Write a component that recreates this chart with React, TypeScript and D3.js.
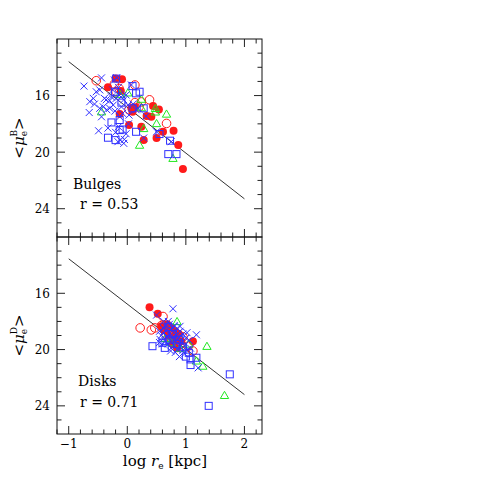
import React from "react";
import * as d3 from "d3";

type P = [number, number];

// axis ticks
const xMajor = [-1, 0, 1, 2];
const yMajor = [16, 20, 24];

// fitted relations: [x, y] at both ends
const bulgeFit: P[] = [[-1, 13.6], [2, 23.3]];
const diskFit: P[] = [[-1, 13.55], [2, 23.2]];

// Bulges panel
const bulgeCross: P[] = [
  [-0.74, 15.33], [-0.53, 15.73], [-0.47, 15.6], [-0.58, 16.2], [-0.64, 16.43], [-0.56, 16.6],
  [-0.65, 17.2], [-0.47, 16.9], [-0.39, 16.2], [-0.3, 16.36], [-0.35, 17.0], [-0.24, 16.67],
  [-0.19, 16.2], [-0.14, 15.96], [-0.06, 16.3], [-0.18, 14.74], [-0.22, 14.9], [-0.44, 17.5],
  [-0.49, 18.49], [-0.33, 18.3], [-0.15, 18.2], [-0.12, 19.15], [-0.06, 19.38], [-0.16, 19.26],
  [-0.02, 18.7], [-0.08, 17.26], [0.03, 17.38], [0.01, 16.67], [0.1, 16.6], [0.15, 17.0],
  [0.28, 19.0], [0.32, 17.45], [-0.21, 17.1], [-0.13, 17.5], [-0.15, 15.42], [-0.02, 15.96],
  [-0.27, 16.1], [-0.41, 16.8], [-0.36, 16.3], [0.07, 15.25], [-0.1, 16.8], [0.18, 16.9],
  [0.5, 18.56], [0.75, 19.26], [-0.25, 15.6], [-0.3, 16.9], [-0.08, 16.0], [-0.05, 19.1],
  [-0.2, 18.6], [0.02, 18.0], [-0.44, 14.75],
];
const bulgeSquare: P[] = [
  [0.09, 15.33], [0.15, 15.84], [0.21, 15.73], [0.09, 16.9], [0.28, 16.9], [-0.27, 17.9],
  [-0.33, 18.98], [-0.2, 19.15], [-0.13, 18.44], [0.15, 18.56], [-0.21, 15.73], [-0.19, 14.8],
  [0.55, 18.72], [0.73, 19.19], [0.7, 20.14], [0.84, 20.14], [-0.13, 17.73], [-0.08, 18.4],
  [-0.1, 16.5],
];
const bulgeTriangle: P[] = [
  [-0.44, 17.14], [0.01, 15.8], [-0.13, 15.9], [0.24, 16.25], [0.48, 16.9], [0.67, 17.3],
  [0.5, 17.97], [0.28, 18.32], [0.21, 19.5], [0.78, 20.43], [0.24, 16.85], [0.48, 17.15],
];
const bulgeOpen: P[] = [
  [-0.53, 14.95], [-0.22, 15.18], [-0.19, 15.73], [0.13, 15.25], [0.38, 16.3], [0.24, 16.45],
  [0.13, 16.5], [0.2, 16.8], [0.67, 17.97], [-0.14, 15.5], [0.03, 17.0],
];
const bulgeFilled: P[] = [
  [-0.33, 15.42], [-0.09, 14.85], [-0.11, 15.68], [-0.13, 17.3], [0.09, 17.14], [0.07, 16.9],
  [0.03, 18.08], [0.24, 18.2], [0.28, 19.15], [0.44, 16.74], [0.54, 16.98], [0.5, 19.0],
  [0.61, 18.56], [0.79, 18.49], [0.87, 19.5], [0.95, 21.2], [0.33, 17.45], [0.13, 16.83],
  [0.41, 17.5], [-0.2, 14.8],
];

// Disks panel
const diskCross: P[] = [
  [0.78, 17.1], [0.5, 17.55], [1.18, 18.95], [0.89, 20.5], [1.21, 21.3], [0.62, 18.0],
  [0.7, 18.0], [0.65, 18.3], [0.72, 18.2], [0.8, 18.3], [0.85, 18.5], [0.68, 18.6],
  [0.75, 18.6], [0.9, 18.7], [0.62, 18.8], [0.72, 18.9], [0.8, 18.8], [0.95, 18.9],
  [0.58, 19.0], [0.68, 19.1], [0.78, 19.1], [0.88, 19.1], [1.0, 19.2], [0.65, 19.4],
  [0.73, 19.35], [0.83, 19.4], [0.93, 19.5], [0.7, 19.6], [0.8, 19.7], [0.9, 19.8],
  [0.98, 19.7], [0.75, 19.9], [0.85, 20.0], [0.95, 20.05], [1.03, 20.0], [0.6, 19.6],
  [0.55, 19.5], [0.78, 18.45], [0.86, 18.85], [0.92, 19.3], [0.82, 20.2], [1.08, 19.9],
  [0.62, 18.5], [0.98, 20.3], [0.56, 19.28], [0.67, 19.05], [1.02, 18.8], [1.06, 19.35],
  [0.55, 18.7], [0.9, 18.35], [0.74, 20.1],
];
const diskSquare: P[] = [
  [0.43, 19.76], [0.6, 19.52], [0.64, 19.88], [1.05, 20.23], [1.08, 20.7], [1.08, 21.1],
  [1.18, 20.58], [1.75, 21.76], [1.39, 24.0], [0.7, 18.4], [0.78, 18.9], [0.88, 19.3],
  [0.95, 19.8], [0.72, 19.3], [1.0, 20.5], [0.85, 19.6],
];
const diskTriangle: P[] = [
  [0.85, 18.0], [1.36, 19.76], [1.29, 21.17], [1.66, 23.25], [1.18, 20.8], [0.75, 19.5],
  [0.9, 19.9], [0.65, 19.2], [1.05, 19.6],
];
const diskOpen: P[] = [
  [0.22, 18.46], [0.41, 18.6], [0.47, 18.46], [0.61, 17.65], [1.12, 20.1], [1.04, 19.76],
  [0.66, 18.9], [0.75, 19.2], [0.85, 19.5], [0.95, 19.1], [0.58, 18.3], [0.7, 18.75],
  [0.92, 19.6],
];
const diskFilled: P[] = [
  [0.38, 17.0], [0.52, 17.45], [0.58, 18.34], [1.12, 19.4], [0.75, 18.46], [0.66, 18.5],
  [0.7, 19.0], [0.8, 19.2], [0.88, 18.9], [0.78, 19.6], [0.68, 18.2], [0.92, 19.4],
  [0.85, 19.9], [0.62, 18.6], [0.82, 18.7],
];

const BLUE = "#3030ff";
const GREEN = "#22e822";
const RED = "#ff1a1a";
const FONT = "DejaVu Serif, serif";

const x = d3.scaleLinear().domain([-1.2, 2.3]).range([57, 262]);
const xMinor = d3.range(-6, 12).map((i) => +(i * 0.2).toFixed(1));
const yMinor = d3.range(13, 26);

type PanelProps = {
  top: number;
  bottom: number;
  cross: P[];
  square: P[];
  triangle: P[];
  open: P[];
  filled: P[];
  fit: P[];
  name: string;
  r: string;
  nameX: number;
  xLabels: boolean;
};

const Panel = (p: PanelProps) => {
  const y = d3.scaleLinear().domain([12, 26]).range([p.top, p.bottom]);
  const [x0, x1] = x.range();
  const line = d3.line<P>().x((d) => x(d[0])).y((d) => y(d[1]));
  const tri = d3.symbol(d3.symbolTriangle, 30);
  return (
    <g>
      {/* ticks */}
      {xMinor.map((v) => {
        const len = xMajor.includes(v) ? 8 : 4.5;
        return (
          <g key={"x" + v} stroke="#222" strokeWidth={1}>
            <line x1={x(v)} x2={x(v)} y1={p.bottom} y2={p.bottom - len} />
            <line x1={x(v)} x2={x(v)} y1={p.top} y2={p.top + len} />
          </g>
        );
      })}
      {yMinor.map((v) => {
        const len = yMajor.includes(v) ? 8 : 4.5;
        return (
          <g key={"y" + v} stroke="#222" strokeWidth={1}>
            <line x1={x0} x2={x0 + len} y1={y(v)} y2={y(v)} />
            <line x1={x1} x2={x1 - len} y1={y(v)} y2={y(v)} />
          </g>
        );
      })}
      {yMajor.map((v) => (
        <text key={"yl" + v} x={50} y={y(v) + 4.5} textAnchor="end" fontSize={12} fontFamily={FONT}>
          {v}
        </text>
      ))}
      {p.xLabels &&
        xMajor.map((v) => (
          <text key={"xl" + v} x={x(v)} y={448} textAnchor="middle" fontSize={12} fontFamily={FONT}>
            {v < 0 ? "\u2212" + Math.abs(v) : v}
          </text>
        ))}

      {/* fit */}
      <path d={line(p.fit) || ""} fill="none" stroke="#333" strokeWidth={1} />

      {/* points */}
      {p.filled.map((d, i) => (
        <circle key={"f" + i} cx={x(d[0])} cy={y(d[1])} r={4} fill={RED} />
      ))}
      {p.open.map((d, i) => (
        <circle key={"o" + i} cx={x(d[0])} cy={y(d[1])} r={4.3} fill="none" stroke={RED} strokeWidth={1} />
      ))}
      {p.triangle.map((d, i) => (
        <path
          key={"t" + i}
          d={tri() || ""}
          transform={`translate(${x(d[0])},${y(d[1]) + 0.8})`}
          fill="none"
          stroke={GREEN}
          strokeWidth={1}
        />
      ))}
      {p.square.map((d, i) => (
        <rect
          key={"s" + i}
          x={x(d[0]) - 3.5}
          y={y(d[1]) - 3.5}
          width={7}
          height={7}
          fill="none"
          stroke={BLUE}
          strokeWidth={1}
        />
      ))}
      {p.cross.map((d, i) => {
        const cx = x(d[0]);
        const cy = y(d[1]);
        const s = 3.5;
        return (
          <path
            key={"c" + i}
            d={`M${cx - s},${cy - s}L${cx + s},${cy + s}M${cx - s},${cy + s}L${cx + s},${cy - s}`}
            stroke={BLUE}
            strokeWidth={1}
          />
        );
      })}

      {/* labels */}
      <text x={p.nameX} y={y(22.6)} fontSize={14} fontFamily={FONT}>
        {p.name}
      </text>
      <text x={80} y={y(24.05)} fontSize={14} fontFamily={FONT}>
        {p.r}
      </text>
      <text
        transform={`translate(24,${(p.top + p.bottom) / 2}) rotate(-90)`}
        textAnchor="middle"
        fontSize={15}
        fontFamily={FONT}
      >
        {"<"}
        <tspan fontStyle="italic">μ</tspan>
        <tspan fontSize={9} dy={3}>e</tspan>
        <tspan fontSize={9} dx={-5.5} dy={-10}>{p.name === "Bulges" ? "B" : "D"}</tspan>
        <tspan dy={7}>{">"}</tspan>
      </text>

      <rect x={x0} y={p.top} width={x1 - x0} height={p.bottom - p.top} fill="none" stroke="#111" strokeWidth={1} />
    </g>
  );
};

export default function App() {
  return (
    <svg
      width={491}
      height={491}
      style={{ position: "absolute", left: 0, top: 0, background: "#fff" }}
    >
      <rect width={491} height={491} fill="#fff" />
      <Panel
        top={39}
        bottom={237}
        cross={bulgeCross}
        square={bulgeSquare}
        triangle={bulgeTriangle}
        open={bulgeOpen}
        filled={bulgeFilled}
        fit={bulgeFit}
        name="Bulges"
        r="r = 0.53"
        nameX={73}
        xLabels={false}
      />
      <Panel
        top={237}
        bottom={434}
        cross={diskCross}
        square={diskSquare}
        triangle={diskTriangle}
        open={diskOpen}
        filled={diskFilled}
        fit={diskFit}
        name="Disks"
        r="r = 0.71"
        nameX={78}
        xLabels={true}
      />
      <text x={165} y={466} textAnchor="middle" fontSize={15} fontFamily={FONT}>
        {"log "}
        <tspan fontStyle="italic">r</tspan>
        <tspan fontSize={9} dy={3}>e</tspan>
        <tspan dy={-3}>{" [kpc]"}</tspan>
      </text>
    </svg>
  );
}
